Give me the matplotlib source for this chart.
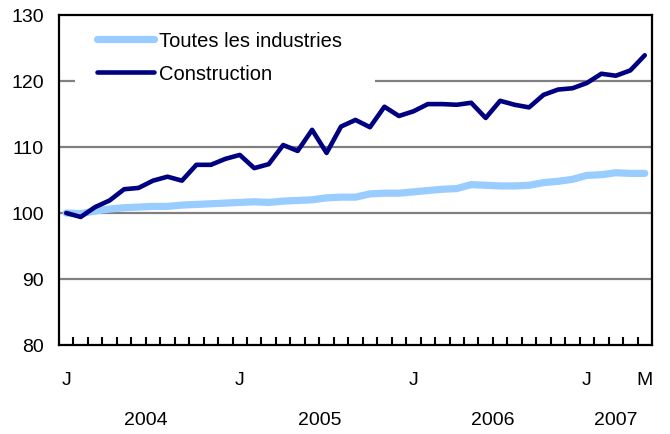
import matplotlib
matplotlib.use("Agg")
import matplotlib.pyplot as plt
import matplotlib.transforms as mtransforms
from matplotlib.patches import Rectangle

plt.rcParams['font.family'] = ['Liberation Sans', 'DejaVu Sans']

# ---- data ----
months = list(range(41))  # Jan 2004 .. May 2007
construction = [100.0, 99.4, 100.9, 101.9, 103.6, 103.8, 104.9, 105.5, 104.9, 107.3,
                107.3, 108.2, 108.8, 106.8, 107.4, 110.3, 109.4, 112.6, 109.1, 113.1,
                114.1, 113.0, 116.1, 114.7, 115.4, 116.5, 116.5, 116.4, 116.7, 114.4,
                117.0, 116.4, 116.0, 117.9, 118.7, 118.9, 119.7, 121.1, 120.8, 121.6,
                123.9]
all_industries = [100.0, 99.9, 100.3, 100.6, 100.8, 100.9, 101.0, 101.0, 101.2, 101.3,
                  101.4, 101.5, 101.6, 101.7, 101.6, 101.8, 101.9, 102.0, 102.3, 102.4,
                  102.4, 102.9, 103.0, 103.0, 103.2, 103.4, 103.6, 103.7, 104.3, 104.2,
                  104.1, 104.1, 104.2, 104.6, 104.8, 105.1, 105.7, 105.8, 106.1, 106.0,
                  106.0]
month_label_pos = [0, 12, 24, 36, 40]
month_labels = ['J', 'J', 'J', 'J', 'M']
year_labels = ['2004', '2005', '2006', '2007']
year_pos = [5.5, 17.5, 29.5, 38.0]
yticks = [80, 90, 100, 110, 120, 130]
series_names = ['Toutes les industries', 'Construction']

fig = plt.figure(figsize=(6.7, 4.35), dpi=100)
ax = fig.add_axes([59/670, 1-346/435, 593/670, 330/435])

ax.plot(months, all_industries, color='#99CCFF', lw=5.2, solid_capstyle='round',
        solid_joinstyle='round', label=series_names[0], zorder=3)
ax.plot(months, construction, color='#000080', lw=3.3, solid_capstyle='round',
        solid_joinstyle='round', label=series_names[1], zorder=4)

ax.set_xlim(-0.5, 40.5)
ax.set_ylim(80, 130)
ax.set_yticks(yticks)
ax.set_yticklabels([str(v) for v in yticks], fontsize=14)
ax.tick_params(axis='y', length=0, pad=11)
for v in yticks[1:-1]:
    ax.axhline(v, color='#808080', lw=1.6, zorder=1)

for s in ax.spines.values():
    s.set_linewidth(1.6)
    s.set_color('black')

# x ticks: marks at category boundaries, labels at selected months
ax.set_xticks([i + 0.5 for i in range(40)])
ax.set_xticklabels([])
ax.tick_params(axis='x', which='major', direction='in', length=6, width=1.5)
ax.set_xticks(month_label_pos, minor=True)
ax.set_xticklabels(month_labels, minor=True, fontsize=14)
ax.tick_params(axis='x', which='minor', length=0, pad=19)

trans = mtransforms.blended_transform_factory(ax.transData, ax.transAxes)
for p, t in zip(year_pos, year_labels):
    ax.text(p, -75/330, t, transform=trans, ha='center', va='center', fontsize=14)

# white legend background area (covers gridlines)
ax.add_patch(Rectangle((16/592, (346-92)/330), (375-76)/592, (92-18)/330,
                       transform=ax.transAxes, facecolor='white', edgecolor='none',
                       zorder=2))

leg = ax.legend(loc='upper left', bbox_to_anchor=(38/592, (346-32)/330), borderaxespad=0,
                fontsize=14.5, frameon=False, handlelength=2.85, handletextpad=0.25,
                labelspacing=0.7, borderpad=0)

fig.savefig('out.png', dpi=100)
